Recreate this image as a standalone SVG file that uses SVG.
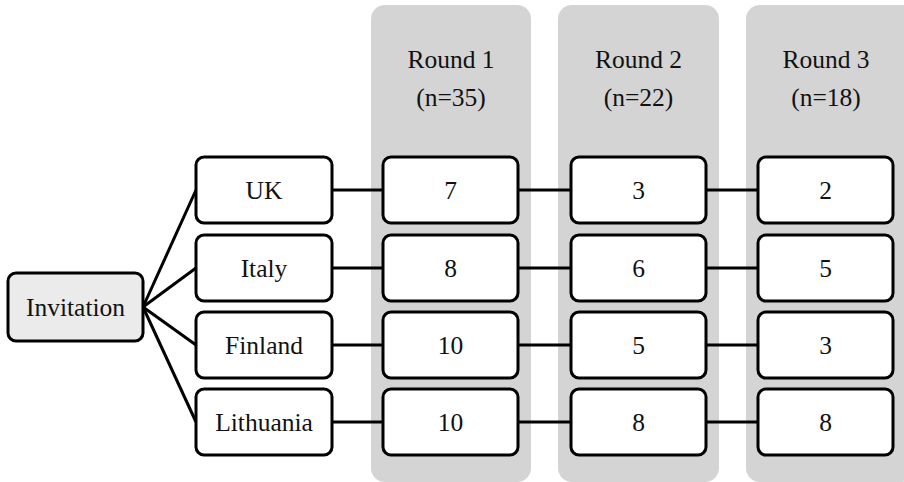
<svg xmlns="http://www.w3.org/2000/svg" width="904" height="482" viewBox="0 0 904 482">
<style>
.bg{fill:#d4d4d4}
.box{fill:#ffffff;stroke:#000;stroke-width:3}
.inv{fill:#ebebeb;stroke:#000;stroke-width:3}
text{font-family:"Liberation Serif","Times New Roman",serif;font-size:25.5px;fill:#111;text-anchor:middle}
.c line{stroke:#000;stroke-width:3}
</style>
<rect width="904" height="482" fill="#ffffff"/>
<g id="round1-col"><rect class="bg" x="371" y="5" width="160" height="477" rx="14"/><text x="451" y="68">Round 1</text><text x="451" y="106">(n=35)</text></g>
<g id="round2-col"><rect class="bg" x="558" y="5" width="161" height="477" rx="14"/><text x="638.5" y="68">Round 2</text><text x="638.5" y="106">(n=22)</text></g>
<g id="round3-col"><rect class="bg" x="746" y="5" width="170" height="477" rx="14"/><text x="826" y="68">Round 3</text><text x="826" y="106">(n=18)</text></g>
<g class="c" id="connectors">
<line x1="143" y1="307" x2="196" y2="190"/>
<line x1="143" y1="307" x2="196" y2="268"/>
<line x1="143" y1="307" x2="196" y2="345"/>
<line x1="143" y1="307" x2="196" y2="422"/>
<line x1="332" y1="190" x2="383" y2="190"/><line x1="518" y1="190" x2="571" y2="190"/><line x1="706" y1="190" x2="758" y2="190"/>
<line x1="332" y1="268" x2="383" y2="268"/><line x1="518" y1="268" x2="571" y2="268"/><line x1="706" y1="268" x2="758" y2="268"/>
<line x1="332" y1="345" x2="383" y2="345"/><line x1="518" y1="345" x2="571" y2="345"/><line x1="706" y1="345" x2="758" y2="345"/>
<line x1="332" y1="422" x2="383" y2="422"/><line x1="518" y1="422" x2="571" y2="422"/><line x1="706" y1="422" x2="758" y2="422"/>
</g>
<g id="invitation"><rect class="inv" x="8" y="273" width="135" height="68" rx="8"/><text x="75.5" y="316">Invitation</text></g>
<g id="uk"><rect class="box" x="196" y="157" width="136" height="66" rx="8"/><text x="264" y="199">UK</text></g>
<g id="italy"><rect class="box" x="196" y="235" width="136" height="66" rx="8"/><text x="264" y="277">Italy</text></g>
<g id="finland"><rect class="box" x="196" y="312" width="136" height="66" rx="8"/><text x="264" y="354">Finland</text></g>
<g id="lithuania"><rect class="box" x="196" y="389" width="136" height="66" rx="8"/><text x="264" y="431">Lithuania</text></g>
<g id="r1-uk"><rect class="box" x="383" y="157" width="135" height="66" rx="8"/><text x="450.5" y="199">7</text></g>
<g id="r1-italy"><rect class="box" x="383" y="235" width="135" height="66" rx="8"/><text x="450.5" y="277">8</text></g>
<g id="r1-finland"><rect class="box" x="383" y="312" width="135" height="66" rx="8"/><text x="450.5" y="354">10</text></g>
<g id="r1-lithuania"><rect class="box" x="383" y="389" width="135" height="66" rx="8"/><text x="450.5" y="431">10</text></g>
<g id="r2-uk"><rect class="box" x="571" y="157" width="135" height="66" rx="8"/><text x="638.5" y="199">3</text></g>
<g id="r2-italy"><rect class="box" x="571" y="235" width="135" height="66" rx="8"/><text x="638.5" y="277">6</text></g>
<g id="r2-finland"><rect class="box" x="571" y="312" width="135" height="66" rx="8"/><text x="638.5" y="354">5</text></g>
<g id="r2-lithuania"><rect class="box" x="571" y="389" width="135" height="66" rx="8"/><text x="638.5" y="431">8</text></g>
<g id="r3-uk"><rect class="box" x="758" y="157" width="135" height="66" rx="8"/><text x="825.5" y="199">2</text></g>
<g id="r3-italy"><rect class="box" x="758" y="235" width="135" height="66" rx="8"/><text x="825.5" y="277">5</text></g>
<g id="r3-finland"><rect class="box" x="758" y="312" width="135" height="66" rx="8"/><text x="825.5" y="354">3</text></g>
<g id="r3-lithuania"><rect class="box" x="758" y="389" width="135" height="66" rx="8"/><text x="825.5" y="431">8</text></g>
</svg>
